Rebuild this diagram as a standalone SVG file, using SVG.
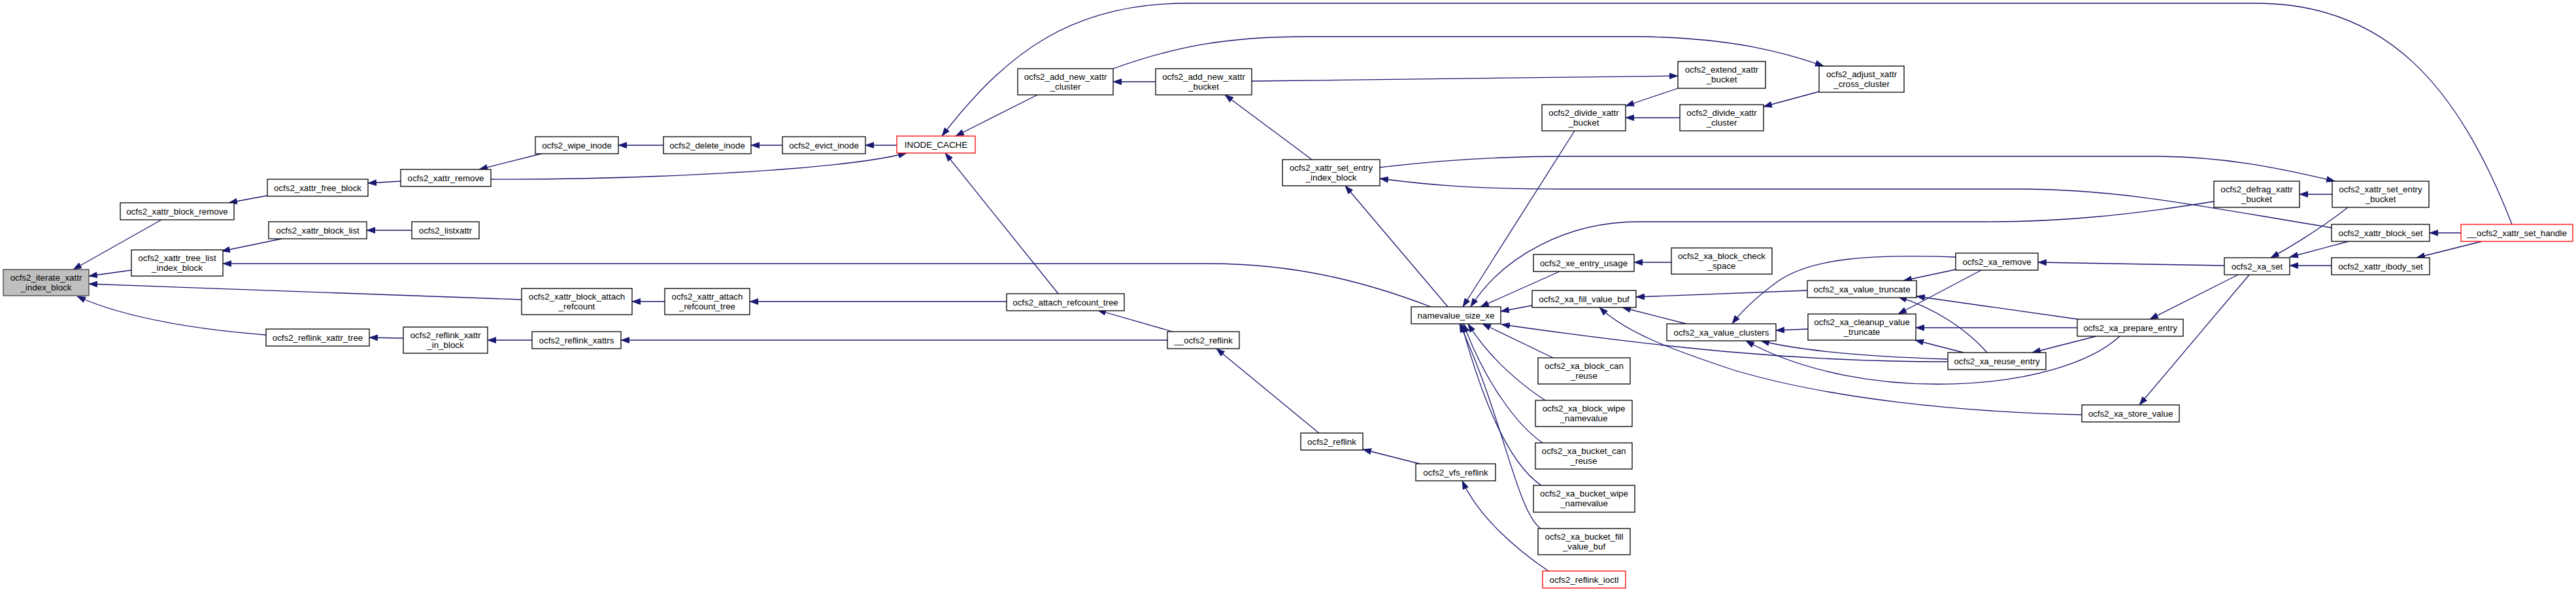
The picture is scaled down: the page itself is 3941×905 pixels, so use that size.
<svg xmlns="http://www.w3.org/2000/svg" width="3941" height="905" viewBox="0 0 3941 905">
<style>
.n rect{fill:#fff;stroke:#000;stroke-width:1.3}
.n text{font-family:"Liberation Sans",Arial,Helvetica,sans-serif;font-size:13.33px;text-anchor:middle;fill:#000}
.red rect{stroke:#ff0000}
.main rect{fill:#bfbfbf;stroke:#404040}
.e path{fill:none;stroke:#191970;stroke-width:1.3;marker-end:url(#ah)}
</style>
<defs>
<marker id="ah" markerUnits="userSpaceOnUse" markerWidth="14" markerHeight="10" refX="13" refY="5" orient="auto"><path d="M0,0 L14,5 L0,10 z" fill="#191970"/></marker>
</defs>
<rect width="3941" height="905" fill="#fff"/>
<g id="edges" class="e">
<path d="M247,336 L112,412"/>
<path d="M201,413 L136,422"/>
<path d="M798,458 L136,434"/>
<path d="M407,512 C320,505 200,490 118,453"/>
<path d="M409,299 L350,310"/>
<path d="M613,277 L563,280"/>
<path d="M832,234 L733,259"/>
<path d="M1015,222 L946,222"/>
<path d="M1197,222 L1149,222"/>
<path d="M1372,222 L1324,222"/>
<path d="M751,274 C950,275 1280,262 1387,234"/>
<path d="M630,352 L561,352"/>
<path d="M431,365 L339,384"/>
<path d="M2189,469 C2100,435 1990,403 1850,403 L341,403"/>
<path d="M1017,461 L967,461"/>
<path d="M1540,461 L1147,461"/>
<path d="M1619,449 L1446,234"/>
<path d="M1794,507 L1679,474"/>
<path d="M1786,520 L950,520"/>
<path d="M814,520 L746,520"/>
<path d="M617,517 L565,516"/>
<path d="M2019,663 L1861,533"/>
<path d="M2172,709 L2085,687"/>
<path d="M2369,873 C2320,840 2262,790 2237,735"/>
<path d="M1587,145 L1462,208"/>
<path d="M1768,125 L1703,125"/>
<path d="M3843,343 C3760,130 3650,5 3451,5 L1816,5 C1640,5 1540,80 1441,208"/>
<path d="M1703,105 C1800,70 1880,56 2000,56 L2510,56 C2650,58 2730,80 2790,101"/>
<path d="M1915,124 L2567,116"/>
<path d="M2007,244 L1874,145"/>
<path d="M2567,135 L2487,162"/>
<path d="M2570,180 L2487,180"/>
<path d="M2783,140 L2698,163"/>
<path d="M2111,256 C2200,245 2300,239 2400,239 L3305,239 C3400,240 3480,255 3572,277"/>
<path d="M3567,348 C3380,318 3250,289 3088,289 L2395,289 C2250,289 2180,282 2111,273"/>
<path d="M2215,469 L2058,284"/>
<path d="M2409,200 L2238,469"/>
<path d="M3387,308 C3250,330 3150,339 3040,339 L2506,339 C2400,339 2300,390 2250,469"/>
<path d="M2386,415 L2265,469"/>
<path d="M2557,401 L2500,401"/>
<path d="M2344,467 L2296,476"/>
<path d="M2765,444 L2503,454"/>
<path d="M2580,495 L2482,470"/>
<path d="M3185,634 C3000,630 2800,610 2650,565 C2560,535 2490,510 2447,470"/>
<path d="M2376,547 L2268,495"/>
<path d="M2364,612 C2330,590 2280,550 2246,495"/>
<path d="M2360,677 C2320,650 2270,580 2239,495"/>
<path d="M2358,742 C2310,710 2270,620 2236,495"/>
<path d="M2357,808 C2320,780 2300,640 2233,495"/>
<path d="M2766,503 L2717,505"/>
<path d="M2992,393 C2860,388 2770,395 2720,430 C2690,452 2665,475 2650,495"/>
<path d="M2992,412 L2912,429"/>
<path d="M3033,412 L2904,480"/>
<path d="M3179,488 L2932,453"/>
<path d="M3040,539 C3010,505 2960,470 2904,454"/>
<path d="M3178,501 L2931,501"/>
<path d="M3004,539 L2930,520"/>
<path d="M3207,514 L3109,539"/>
<path d="M2979,549 C2850,545 2750,535 2694,521"/>
<path d="M2979,553 C2750,553 2550,532 2297,496"/>
<path d="M3243,514 C3150,600 2850,620 2671,521"/>
<path d="M3403,406 L3118,401"/>
<path d="M3426,419 L3289,488"/>
<path d="M3442,419 L3273,619"/>
<path d="M3592,317 C3550,350 3500,380 3474,394"/>
<path d="M3593,369 L3503,393"/>
<path d="M3567,406 L3503,406"/>
<path d="M3568,297 L3518,297"/>
<path d="M3765,356 L3717,356"/>
<path d="M3797,369 L3697,394"/>
</g>
<g id="n_main" class="n main"><rect x="5" y="412" width="131" height="40"/><text x="70.5" y="428.5">ocfs2_iterate_xattr</text><text x="70.5" y="443.5">_index_block</text></g>
<g id="n_block_remove" class="n"><rect x="184" y="310" width="174" height="26"/><text x="271" y="327.5">ocfs2_xattr_block_remove</text></g>
<g id="n_free_block" class="n"><rect x="409" y="274" width="154" height="26"/><text x="486" y="291.5">ocfs2_xattr_free_block</text></g>
<g id="n_xattr_remove" class="n"><rect x="613" y="259" width="138" height="26"/><text x="682" y="276.5">ocfs2_xattr_remove</text></g>
<g id="n_wipe_inode" class="n"><rect x="819" y="209" width="127" height="26"/><text x="882.5" y="226.5">ocfs2_wipe_inode</text></g>
<g id="n_block_list" class="n"><rect x="411" y="339" width="150" height="26"/><text x="486" y="356.5">ocfs2_xattr_block_list</text></g>
<g id="n_listxattr" class="n"><rect x="630" y="339" width="103" height="26"/><text x="681.5" y="356.5">ocfs2_listxattr</text></g>
<g id="n_tree_list" class="n"><rect x="201" y="382" width="140" height="40"/><text x="271" y="398.5">ocfs2_xattr_tree_list</text><text x="271" y="413.5">_index_block</text></g>
<g id="n_block_attach_refcount" class="n"><rect x="798" y="441" width="169" height="40"/><text x="882.5" y="457.5">ocfs2_xattr_block_attach</text><text x="882.5" y="472.5">_refcount</text></g>
<g id="n_reflink_xattr_tree" class="n"><rect x="407" y="503" width="158" height="26"/><text x="486" y="520.5">ocfs2_reflink_xattr_tree</text></g>
<g id="n_reflink_xattr_in_block" class="n"><rect x="617" y="500" width="129" height="40"/><text x="681.5" y="516.5">ocfs2_reflink_xattr</text><text x="681.5" y="531.5">_in_block</text></g>
<g id="n_reflink_xattrs" class="n"><rect x="814" y="507" width="136" height="26"/><text x="882" y="524.5">ocfs2_reflink_xattrs</text></g>
<g id="n_delete_inode" class="n"><rect x="1015" y="209" width="134" height="26"/><text x="1082" y="226.5">ocfs2_delete_inode</text></g>
<g id="n_evict_inode" class="n"><rect x="1197" y="209" width="127" height="26"/><text x="1260.5" y="226.5">ocfs2_evict_inode</text></g>
<g id="n_inode_cache" class="n red"><rect x="1372" y="208" width="120" height="26"/><text x="1432" y="225.5">INODE_CACHE</text></g>
<g id="n_add_new_xattr_cluster" class="n"><rect x="1557" y="105" width="146" height="40"/><text x="1630" y="121.5">ocfs2_add_new_xattr</text><text x="1630" y="136.5">_cluster</text></g>
<g id="n_add_new_xattr_bucket" class="n"><rect x="1768" y="105" width="147" height="40"/><text x="1841.5" y="121.5">ocfs2_add_new_xattr</text><text x="1841.5" y="136.5">_bucket</text></g>
<g id="n_xattr_attach_refcount_tree" class="n"><rect x="1017" y="441" width="130" height="40"/><text x="1082" y="457.5">ocfs2_xattr_attach</text><text x="1082" y="472.5">_refcount_tree</text></g>
<g id="n_attach_refcount_tree" class="n"><rect x="1540" y="449" width="180" height="26"/><text x="1630" y="466.5">ocfs2_attach_refcount_tree</text></g>
<g id="n___ocfs2_reflink" class="n"><rect x="1786" y="507" width="110" height="26"/><text x="1841" y="524.5">__ocfs2_reflink</text></g>
<g id="n_set_entry_index_block" class="n"><rect x="1962" y="244" width="149" height="40"/><text x="2036.5" y="260.5">ocfs2_xattr_set_entry</text><text x="2036.5" y="275.5">_index_block</text></g>
<g id="n_extend_xattr_bucket" class="n"><rect x="2567" y="94" width="134" height="41"/><text x="2634" y="110.5">ocfs2_extend_xattr</text><text x="2634" y="125.5">_bucket</text></g>
<g id="n_adjust_xattr_cross_cluster" class="n"><rect x="2783" y="101" width="130" height="40"/><text x="2848" y="117.5">ocfs2_adjust_xattr</text><text x="2848" y="132.5">_cross_cluster</text></g>
<g id="n_divide_xattr_bucket" class="n"><rect x="2359" y="160" width="128" height="40"/><text x="2423" y="176.5">ocfs2_divide_xattr</text><text x="2423" y="191.5">_bucket</text></g>
<g id="n_divide_xattr_cluster" class="n"><rect x="2570" y="160" width="128" height="40"/><text x="2634" y="176.5">ocfs2_divide_xattr</text><text x="2634" y="191.5">_cluster</text></g>
<g id="n_xe_entry_usage" class="n"><rect x="2346" y="389" width="154" height="26"/><text x="2423" y="406.5">ocfs2_xe_entry_usage</text></g>
<g id="n_xa_block_check_space" class="n"><rect x="2557" y="379" width="154" height="40"/><text x="2634" y="395.5">ocfs2_xa_block_check</text><text x="2634" y="410.5">_space</text></g>
<g id="n_xa_value_truncate" class="n"><rect x="2765" y="429" width="167" height="26"/><text x="2848.5" y="446.5">ocfs2_xa_value_truncate</text></g>
<g id="n_xa_fill_value_buf" class="n"><rect x="2344" y="444" width="159" height="26"/><text x="2423.5" y="461.5">ocfs2_xa_fill_value_buf</text></g>
<g id="n_namevalue_size_xe" class="n"><rect x="2159" y="469" width="137" height="26"/><text x="2227.5" y="486.5">namevalue_size_xe</text></g>
<g id="n_xa_value_clusters" class="n"><rect x="2550" y="495" width="167" height="26"/><text x="2633.5" y="512.5">ocfs2_xa_value_clusters</text></g>
<g id="n_xa_cleanup_value_truncate" class="n"><rect x="2766" y="480" width="165" height="40"/><text x="2848.5" y="496.5">ocfs2_xa_cleanup_value</text><text x="2848.5" y="511.5">_truncate</text></g>
<g id="n_xa_block_can_reuse" class="n"><rect x="2353" y="547" width="141" height="40"/><text x="2423.5" y="563.5">ocfs2_xa_block_can</text><text x="2423.5" y="578.5">_reuse</text></g>
<g id="n_xa_block_wipe_namevalue" class="n"><rect x="2349" y="612" width="148" height="40"/><text x="2423" y="628.5">ocfs2_xa_block_wipe</text><text x="2423" y="643.5">_namevalue</text></g>
<g id="n_xa_bucket_can_reuse" class="n"><rect x="2349" y="677" width="148" height="40"/><text x="2423" y="693.5">ocfs2_xa_bucket_can</text><text x="2423" y="708.5">_reuse</text></g>
<g id="n_xa_bucket_wipe_namevalue" class="n"><rect x="2346" y="742" width="155" height="41"/><text x="2423.5" y="758.5">ocfs2_xa_bucket_wipe</text><text x="2423.5" y="773.5">_namevalue</text></g>
<g id="n_xa_bucket_fill_value_buf" class="n"><rect x="2353" y="808" width="141" height="40"/><text x="2423.5" y="824.5">ocfs2_xa_bucket_fill</text><text x="2423.5" y="839.5">_value_buf</text></g>
<g id="n_reflink_ioctl" class="n red"><rect x="2360" y="873" width="127" height="26"/><text x="2423.5" y="890.5">ocfs2_reflink_ioctl</text></g>
<g id="n_ocfs2_reflink" class="n"><rect x="1990" y="662" width="95" height="26"/><text x="2037.5" y="679.5">ocfs2_reflink</text></g>
<g id="n_vfs_reflink" class="n"><rect x="2166" y="709" width="122" height="26"/><text x="2227" y="726.5">ocfs2_vfs_reflink</text></g>
<g id="n_defrag_xattr_bucket" class="n"><rect x="3387" y="277" width="131" height="40"/><text x="3452.5" y="293.5">ocfs2_defrag_xattr</text><text x="3452.5" y="308.5">_bucket</text></g>
<g id="n_set_entry_bucket" class="n"><rect x="3568" y="277" width="148" height="40"/><text x="3642" y="293.5">ocfs2_xattr_set_entry</text><text x="3642" y="308.5">_bucket</text></g>
<g id="n_xattr_block_set" class="n"><rect x="3567" y="343" width="150" height="26"/><text x="3642" y="360.5">ocfs2_xattr_block_set</text></g>
<g id="n_xattr_set_handle" class="n red"><rect x="3765" y="343" width="171" height="26"/><text x="3850.5" y="360.5">__ocfs2_xattr_set_handle</text></g>
<g id="n_xa_remove" class="n"><rect x="2992" y="387" width="126" height="26"/><text x="3055" y="404.5">ocfs2_xa_remove</text></g>
<g id="n_xa_set" class="n"><rect x="3403" y="394" width="100" height="26"/><text x="3453" y="411.5">ocfs2_xa_set</text></g>
<g id="n_xattr_ibody_set" class="n"><rect x="3567" y="394" width="150" height="26"/><text x="3642" y="411.5">ocfs2_xattr_ibody_set</text></g>
<g id="n_xa_prepare_entry" class="n"><rect x="3178" y="488" width="162" height="26"/><text x="3259" y="505.5">ocfs2_xa_prepare_entry</text></g>
<g id="n_xa_reuse_entry" class="n"><rect x="2980" y="539" width="150" height="26"/><text x="3055" y="556.5">ocfs2_xa_reuse_entry</text></g>
<g id="n_xa_store_value" class="n"><rect x="3185" y="619" width="149" height="26"/><text x="3259.5" y="636.5">ocfs2_xa_store_value</text></g>
</svg>
